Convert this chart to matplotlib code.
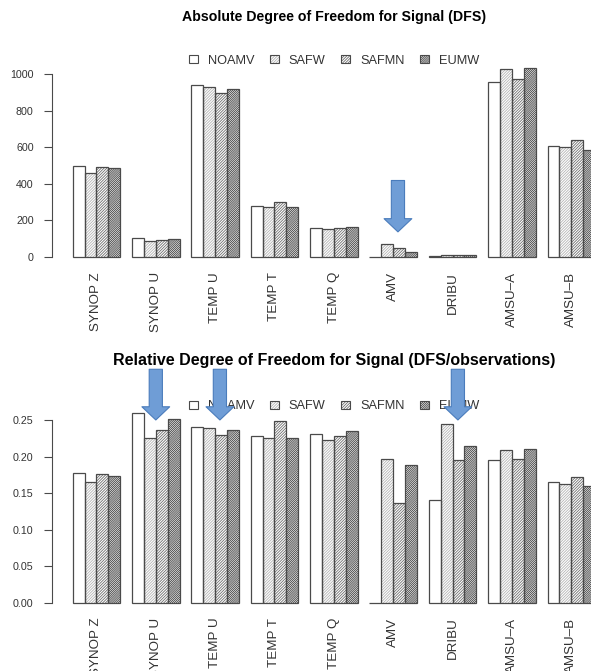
import numpy as np
import matplotlib
matplotlib.use("Agg")
import matplotlib.pyplot as plt
from matplotlib.patches import Patch

plt.rcParams['font.family'] = ['Liberation Sans', 'DejaVu Sans']
plt.rcParams['hatch.linewidth'] = 0.6

# observation types and experiments
obs_types = ['SYNOP Z', 'SYNOP U', 'TEMP U', 'TEMP T', 'TEMP Q',
             'AMV', 'DRIBU', 'AMSU\u2013A', 'AMSU\u2013B']
experiments = ['NOAMV', 'SAFW', 'SAFMN', 'EUMW']

# absolute DFS, one list per experiment
dfs_noamv = [499, 102, 938, 277, 157, 0, 4, 956, 605]
dfs_safw = [457, 89, 927, 271, 151, 71, 9, 1026, 601]
dfs_safmn = [492, 93, 894, 299, 157, 47, 9, 971, 639]
dfs_eumw = [485, 98, 916, 271, 162, 25, 9, 1031, 585]

# DFS per observation
rel_noamv = [0.178, 0.259, 0.241, 0.228, 0.231, 0.0, 0.140, 0.195, 0.165]
rel_safw = [0.165, 0.226, 0.239, 0.225, 0.222, 0.196, 0.245, 0.209, 0.162]
rel_safmn = [0.176, 0.236, 0.230, 0.248, 0.228, 0.137, 0.195, 0.197, 0.172]
rel_eumw = [0.173, 0.251, 0.236, 0.225, 0.235, 0.189, 0.215, 0.210, 0.159]

hatches = [None, '////////////', '////////////', '////////////////']
hatch_cols = ['#555555', '#b4b4b4', '#6e6e6e', '#404040']
edge = '#4a4a4a'

W, H = 591, 671
fig = plt.figure(figsize=(W / 100, H / 100), dpi=100)


def px_axes(left, right, top, bottom):
    return fig.add_axes([left / W, 1 - bottom / H, (right - left) / W, (bottom - top) / H])


def draw_panel(ax, series, ylim, yticks, fmt, title, title_y, title_size, arrows):
    n = len(obs_types)
    base = 1 + 5 * np.arange(n)
    for k, vals in enumerate(series):
        x = base + k
        if hatches[k]:
            ax.bar(x, vals, width=1, align='edge', facecolor='white',
                   edgecolor=hatch_cols[k], hatch=hatches[k], linewidth=0, zorder=2)
        else:
            ax.bar(x, vals, width=1, align='edge', facecolor='white', linewidth=0, zorder=2)
        ax.bar(x, vals, width=1, align='edge', facecolor='none',
               edgecolor=edge, linewidth=0.9, zorder=3)
    ax.set_xlim(-0.77, 5 * n + 1.77)
    ax.set_ylim(*ylim)
    for s in ['top', 'right', 'bottom']:
        ax.spines[s].set_visible(False)
    ax.spines['left'].set_bounds(yticks[0], yticks[-1])
    ax.spines['left'].set_color(edge)
    ax.spines['left'].set_linewidth(0.8)
    ax.set_yticks(yticks)
    ax.set_yticklabels([fmt.format(v) for v in yticks])
    ax.tick_params(axis='y', length=6, width=0.8, color=edge, pad=7,
                   labelsize=7.7, labelcolor='#333333')
    ax.set_xticks(base + 2)
    ax.set_xticklabels(obs_types, rotation=90, rotation_mode='anchor',
                       ha='right', va='center')
    ax.tick_params(axis='x', length=0, pad=5, labelsize=9.6, labelcolor='#333333')
    ax.text(0.5, title_y, title, transform=ax.transAxes, ha='center', va='center',
            fontsize=title_size, fontweight='bold')

    handles = []
    for k in range(4):
        p1 = Patch(facecolor='white', edgecolor=hatch_cols[k], hatch=hatches[k], linewidth=0)
        p2 = Patch(facecolor='none', edgecolor=edge, linewidth=0.8)
        handles.append((p1, p2))
    ax.legend(handles, experiments, ncol=4, loc='center', bbox_to_anchor=(0.5, 0.94),
              frameon=False, fontsize=9.2, handlelength=0.7, handleheight=0.55,
              handletextpad=0.8, columnspacing=1.2, labelcolor='#333333')

    # highlight arrows
    for xa, ya, length in arrows:
        ax.annotate('', xy=(xa, ya), xycoords='data',
                    xytext=(0, length), textcoords='offset points',
                    arrowprops=dict(arrowstyle='simple,head_length=9.5,head_width=20,tail_width=9.5',
                                    mutation_scale=1, facecolor='#6f9dd6', edgecolor='#4a7cbc',
                                    linewidth=0.8, shrinkA=0, shrinkB=0),
                    annotation_clip=False, zorder=10)


ax1 = px_axes(51.7, 616, 47.6, 265)
draw_panel(ax1, [dfs_noamv, dfs_safw, dfs_safmn, dfs_eumw], (-44, 1144),
           [0, 200, 400, 600, 800, 1000], '{:d}',
           'Absolute Degree of Freedom for Signal (DFS)', 1.142, 10.2,
           [(28.4, 137, 37)])

ax2 = px_axes(51.7, 616, 393.3, 610.7)
draw_panel(ax2, [rel_noamv, rel_safw, rel_safmn, rel_eumw], (-0.011, 0.2865),
           [0.0, 0.05, 0.10, 0.15, 0.20, 0.25], '{:.2f}',
           'Relative Degree of Freedom for Signal (DFS/observations)', 1.1486, 11.5,
           [(8.0, 0.25, 36.5), (13.4, 0.25, 36.5), (33.45, 0.25, 36.5)])

fig.savefig('out.png', dpi=100)
